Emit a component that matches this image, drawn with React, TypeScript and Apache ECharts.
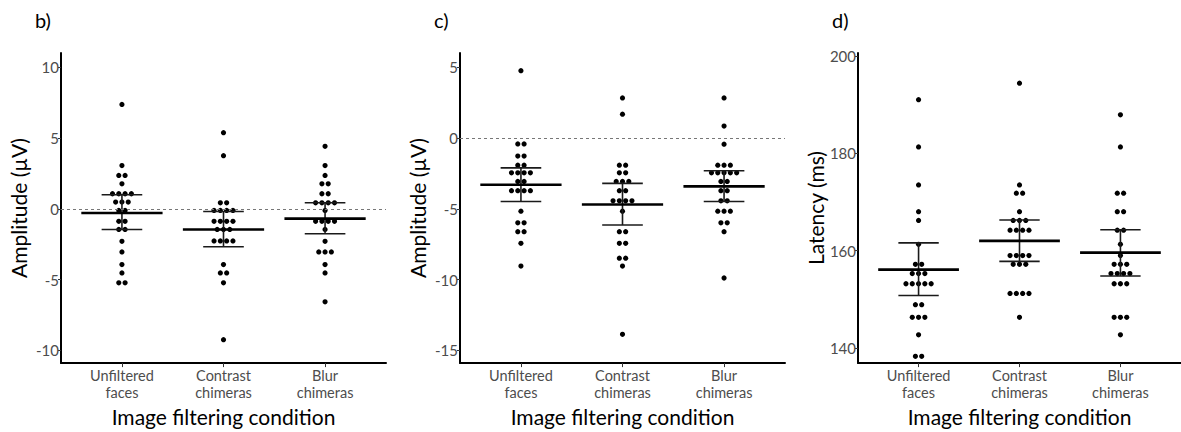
import React, { useEffect, useRef } from "react";
import * as echarts from "echarts";

const categories = ["Unfiltered\nfaces", "Contrast\nchimeras", "Blur\nchimeras"];
const xTitle = "Image filtering condition";

// Panel b) amplitude (µV), one value per participant
const bUnfiltered = [7.37, 3.05, 2.35, 2.35, 1.76, 1.06, 1.06, 1.06, 1.06, 0.47, 0.47, 0.47, -0.12, -0.12, -0.89, -0.89, -1.46, -1.46, -2.3, -3.05, -3.94, -4.53, -5.23, -5.23];
const bContrast = [5.37, 3.75, 0.42, 0.42, -0.12, -0.12, -0.12, -0.12, -0.89, -0.89, -0.89, -0.89, -1.46, -1.46, -1.46, -2.27, -2.27, -2.27, -2.27, -3.94, -4.53, -4.53, -5.23, -9.25];
const bBlur = [4.41, 3.05, 2.35, 1.76, 1.76, 1.06, 1.06, 0.42, 0.42, 0.42, 0.42, -0.12, -0.89, -0.89, -0.89, -0.89, -1.46, -2.3, -3.05, -3.05, -3.05, -3.94, -4.53, -6.57];
const bMean = [-0.3, -1.46, -0.7];
const bLower = [-1.46, -2.68, -1.76];
const bUpper = [0.99, -0.19, 0.42];
const bTicks = [-10, -5, 0, 5, 10];

// Panel c) amplitude (µV)
const cUnfiltered = [4.75, -0.42, -0.42, -1.28, -1.28, -1.92, -1.92, -2.46, -2.46, -2.46, -2.46, -3.07, -3.07, -3.72, -3.72, -3.72, -3.72, -5.17, -5.99, -5.99, -6.62, -6.62, -7.44, -9.05];
const cContrast = [2.83, 1.68, -1.92, -1.92, -2.46, -2.46, -3.07, -3.07, -3.07, -3.72, -3.72, -4.44, -4.44, -4.44, -4.44, -5.17, -6.62, -6.62, -7.44, -7.44, -8.49, -8.49, -9.05, -13.87];
const cBlur = [2.83, 0.84, -0.44, -1.92, -1.92, -1.92, -2.46, -2.46, -2.46, -2.46, -2.46, -3.07, -3.07, -3.72, -3.72, -4.44, -4.44, -5.17, -5.17, -5.17, -5.99, -5.99, -6.62, -9.89];
const cMean = [-3.3, -4.7, -3.42];
const cLower = [-4.49, -6.15, -4.49];
const cUpper = [-2.11, -3.21, -2.32];
const cTicks = [-15, -10, -5, 0, 5];

// Panel d) latency (ms)
const dUnfiltered = [191.0, 181.3, 173.5, 168.0, 166.2, 161.3, 157.2, 157.2, 155.3, 155.3, 155.3, 153.2, 153.2, 153.2, 153.2, 153.2, 148.9, 148.9, 146.3, 146.3, 146.3, 142.7, 138.3, 138.3];
const dContrast = [194.4, 173.5, 171.8, 171.8, 168.0, 166.2, 166.2, 166.2, 164.2, 164.2, 164.2, 164.2, 159.0, 159.0, 159.0, 159.0, 157.2, 157.2, 157.2, 151.2, 151.2, 151.2, 151.2, 146.3];
const dBlur = [187.9, 181.3, 171.8, 171.8, 168.0, 168.0, 164.2, 164.2, 161.3, 159.0, 157.2, 157.2, 157.2, 155.3, 155.3, 155.3, 155.3, 153.2, 153.2, 153.2, 146.3, 146.3, 146.3, 142.7];
const dMean = [156.1, 162.0, 159.6];
const dLower = [150.8, 157.8, 154.8];
const dUpper = [161.6, 166.3, 164.3];
const dTicks = [140, 160, 180, 200];

const FONT = "Lato";
const DOT_STEP = 6.3;
const DOT_R = 2.6;

function dotData(groups: number[][]) {
  const out: number[][] = [];
  groups.forEach((vals, gi) => {
    const counts = new Map<number, number>();
    vals.forEach((v) => counts.set(v, (counts.get(v) || 0) + 1));
    const seen = new Map<number, number>();
    vals.forEach((v) => {
      const k = seen.get(v) || 0;
      seen.set(v, k + 1);
      out.push([gi + 1, v, k, counts.get(v) as number]);
    });
  });
  return out;
}

function summaryData(mean: number[], lower: number[], upper: number[]) {
  return mean.map((m, i) => [i + 1, m, lower[i], upper[i]]);
}

const panels = [
  { label: "b)", groups: [bUnfiltered, bContrast, bBlur], mean: bMean, lower: bLower, upper: bUpper, ticks: bTicks, min: -10.9, max: 11, name: "Amplitude (µV)", zero: true, left: 61 },
  { label: "c)", groups: [cUnfiltered, cContrast, cBlur], mean: cMean, lower: cLower, upper: cUpper, ticks: cTicks, min: -15.9, max: 6, name: "Amplitude (µV)", zero: true, left: 460 },
  { label: "d)", groups: [dUnfiltered, dContrast, dBlur], mean: dMean, lower: dLower, upper: dUpper, ticks: dTicks, min: 136.9, max: 200.6, name: "Latency (ms)", zero: false, left: 858 },
];

export default function App() {
  const ref = useRef<HTMLDivElement>(null);
  useEffect(() => {
    if (!ref.current) return;
    const chart = echarts.init(ref.current, undefined, { renderer: "svg" });
    const GRID_W = 325;
    const grid = panels.map((p) => ({ left: p.left, top: 53, width: GRID_W, height: 312 }));
    const xAxis = panels.map((p, i) => ({
      gridIndex: i,
      type: "value",
      min: 0.4,
      max: 3.6,
      axisLine: { show: true, onZero: false, lineStyle: { color: "#000", width: 2 } },
      axisTick: { show: true, customValues: [1, 2, 3], length: 4, lineStyle: { color: "#333", width: 1 } },
      axisLabel: {
        customValues: [1, 2, 3],
        formatter: (v: number) => categories[Math.round(v) - 1],
        fontSize: 14.5,
        lineHeight: 17,
        color: "#4d4d4d",
        margin: 4,
        fontFamily: FONT,
      },
      splitLine: { show: false },
      name: xTitle,
      nameLocation: "middle",
      nameGap: 42,
      nameTextStyle: { fontSize: 21, color: "#000", fontFamily: FONT },
    }));
    const yAxis = panels.map((p, i) => ({
      gridIndex: i,
      type: "value",
      min: p.min,
      max: p.max,
      axisLine: { show: true, onZero: false, lineStyle: { color: "#000", width: 2 } },
      axisTick: { show: true, customValues: p.ticks, length: 3, lineStyle: { color: "#333", width: 1 } },
      axisLabel: { customValues: p.ticks, fontSize: 15, color: "#4d4d4d", margin: 2, fontFamily: FONT },
      splitLine: { show: false },
      name: p.name,
      nameLocation: "middle",
      nameGap: 32,
      nameTextStyle: { fontSize: 21, color: "#000", fontFamily: FONT },
    }));
    const series: any[] = [];
    panels.forEach((p, i) => {
      series.push({
        type: "custom",
        xAxisIndex: i,
        yAxisIndex: i,
        data: dotData(p.groups),
        renderItem: (params: any, api: any) => {
          const c = api.coord([api.value(0), api.value(1)]);
          const k = api.value(2);
          const n = api.value(3);
          return {
            type: "circle",
            shape: { cx: c[0] + (k - (n - 1) / 2) * DOT_STEP, cy: c[1], r: DOT_R },
            style: { fill: "#000" },
          };
        },
        markLine: p.zero
          ? {
              silent: true,
              symbol: "none",
              label: { show: false },
              lineStyle: { type: [3, 3], color: "#777", width: 1 },
              data: [{ yAxis: 0 }],
            }
          : undefined,
        z: 2,
      });
      series.push({
        type: "custom",
        xAxisIndex: i,
        yAxisIndex: i,
        data: summaryData(p.mean, p.lower, p.upper),
        renderItem: (params: any, api: any) => {
          const x = api.value(0);
          const m = api.coord([x, api.value(1)]);
          const lo = api.coord([x, api.value(2)]);
          const hi = api.coord([x, api.value(3)]);
          const band = api.size([1, 0])[0];
          const thin = { stroke: "#1a1a1a", lineWidth: 1.6 };
          return {
            type: "group",
            children: [
              { type: "line", shape: { x1: m[0], y1: lo[1], x2: m[0], y2: hi[1] }, style: thin },
              { type: "line", shape: { x1: m[0] - band * 0.2, y1: lo[1], x2: m[0] + band * 0.2, y2: lo[1] }, style: thin },
              { type: "line", shape: { x1: m[0] - band * 0.2, y1: hi[1], x2: m[0] + band * 0.2, y2: hi[1] }, style: thin },
              { type: "line", shape: { x1: m[0] - band * 0.4, y1: m[1], x2: m[0] + band * 0.4, y2: m[1] }, style: { stroke: "#000", lineWidth: 2.6 } },
            ],
          };
        },
        z: 3,
      });
    });
    chart.setOption({
      animation: false,
      backgroundColor: "#fff",
      grid,
      xAxis,
      yAxis,
      series,
      graphic: panels.map((p) => ({
        type: "text",
        left: p.left - 26,
        top: 10,
        style: { text: p.label, fontSize: 20, fontFamily: FONT, fill: "#000" },
      })),
    });
    return () => chart.dispose();
  }, []);
  return (
    <div
      ref={ref}
      style={{ position: "fixed", left: 0, top: 0, width: 1181, height: 432, background: "#fff" }}
    />
  );
}
